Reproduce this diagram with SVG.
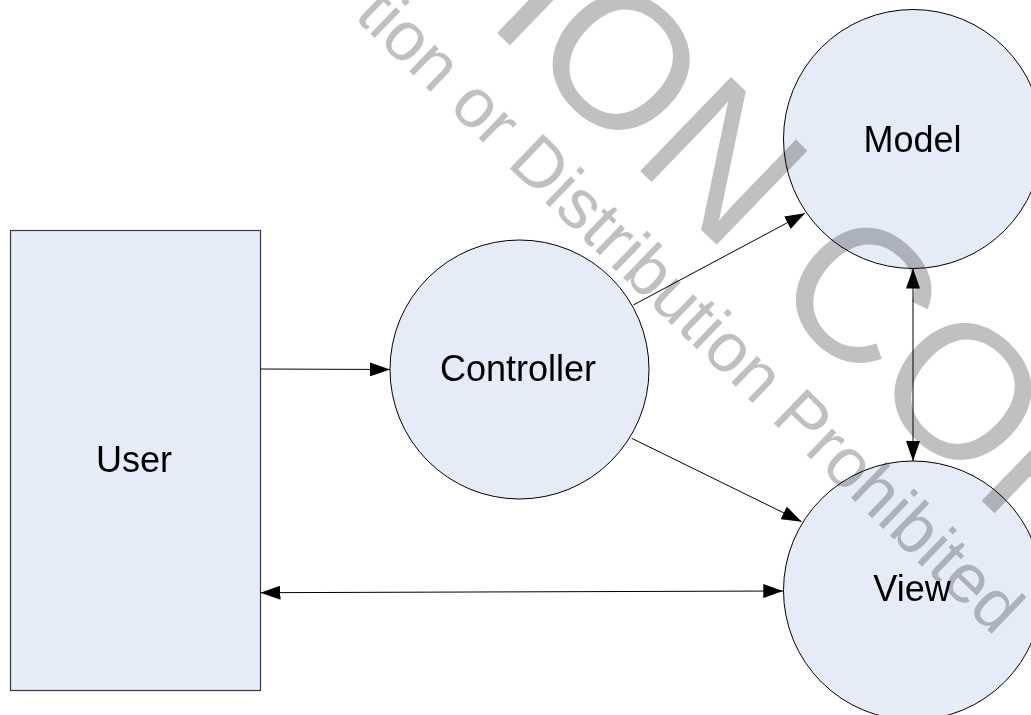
<svg xmlns="http://www.w3.org/2000/svg" width="1031" height="715" viewBox="0 0 1031 715">
  <style>
    .shape { fill: #e6ecf7; stroke: #000; stroke-width: 1; }
    .box { fill: #e6ecf7; stroke: #3a3a3a; stroke-width: 1.2; }
    .label { font-family: "Liberation Sans", Arial, sans-serif; font-size: 36px; fill: #000; text-anchor: middle; }
    .link { fill: none; stroke: #000; stroke-width: 1; }
    .wm { font-family: "Liberation Sans", Arial, sans-serif; fill: #c0c0c0; mix-blend-mode: multiply; }
  </style>
  <defs>
    <marker id="arrow" viewBox="0 0 20 14" refX="20" refY="7" markerWidth="20" markerHeight="14" markerUnits="userSpaceOnUse" orient="auto-start-reverse">
      <path d="M0,0 L20,7 L0,14 Z" fill="#000"/>
    </marker>
  </defs>

  <rect width="1031" height="715" fill="#fff"/>

  <g id="user">
    <rect class="box" x="10.5" y="230.5" width="250" height="460"/>
    <text class="label" x="134" y="472">User</text>
  </g>

  <g id="controller">
    <circle class="shape" cx="519.5" cy="369.5" r="129.5"/>
    <text class="label" x="518" y="381">Controller</text>
  </g>

  <g id="model">
    <circle class="shape" cx="913" cy="139" r="129.5"/>
    <text class="label" x="912.5" y="152">Model</text>
  </g>

  <g id="view">
    <circle class="shape" cx="913" cy="590.5" r="129.5"/>
    <text class="label" x="912" y="601">View</text>
  </g>

  <g id="connectors">
    <path class="link" d="M260.5,369 L390,369.5" marker-end="url(#arrow)"/>
    <path class="link" d="M633.3,305 L805,213.3" marker-end="url(#arrow)"/>
    <path class="link" d="M631.7,438.3 L801.7,521.7" marker-end="url(#arrow)"/>
    <path class="link" d="M913,268.5 L913,461" marker-start="url(#arrow)" marker-end="url(#arrow)"/>
    <path class="link" d="M260.5,592.7 L783.3,591" marker-start="url(#arrow)" marker-end="url(#arrow)"/>
  </g>

  <!-- overlay stamp text, multiplied over the drawing -->
  <g id="stamp">
    <text class="wm" font-size="190" transform="translate(484.6,20.8) rotate(44)">ION COP</text>
    <text class="wm" font-size="69.5" transform="translate(353,17) rotate(44)">tion or Distribution Prohibited</text>
  </g>
</svg>
